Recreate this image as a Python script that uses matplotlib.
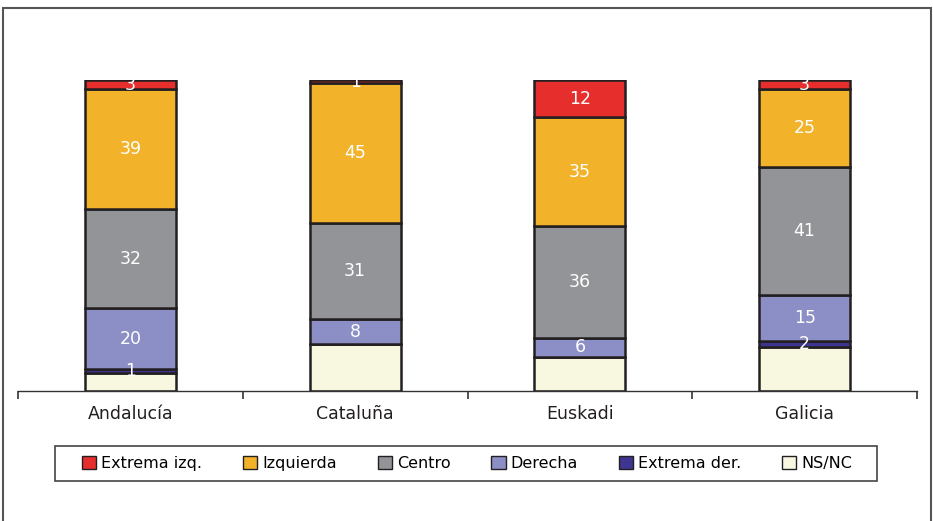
import matplotlib
matplotlib.use("Agg")
import matplotlib.pyplot as plt
from matplotlib.patches import Rectangle, Patch
import numpy as np

regiones = ["Andalucía", "Cataluña", "Euskadi", "Galicia"]
series = ["Extrema izq.", "Izquierda", "Centro", "Derecha", "Extrema der.", "NS/NC"]

# values per series, one per region
extrema_izq = [3, 1, 12, 3]
izquierda = [39, 45, 35, 25]
centro = [32, 31, 36, 41]
derecha = [20, 8, 6, 15]
extrema_der = [1, 0, 0, 2]
ns_nc = [6, 15, 11, 14]

colores = ["#E62E2D", "#F2B32B", "#929497", "#8C8EC6", "#3E3591", "#F8F8E1"]

plt.rcParams["font.family"] = ["DejaVu Sans"]

fig = plt.figure(figsize=(9.33, 5.21), dpi=100)
W, H = 933, 521
ax = fig.add_axes([18 / W, (H - 391) / H, 899 / W, 311 / H])

# stacked from bottom: NS/NC, Extrema der., Derecha, Centro, Izquierda, Extrema izq.
stack = [ns_nc, extrema_der, derecha, centro, izquierda, extrema_izq]
stack_cols = colores[::-1]
stack_labels = [False, True, True, True, True, True]

total = np.sum(np.array(stack, dtype=float), axis=0)
x = np.arange(len(regiones))
bottom = np.zeros(len(regiones))
for vals, col, lab in zip(stack, stack_cols, stack_labels):
    v = np.array(vals, dtype=float)
    pct = v / total * 100
    ax.bar(x, pct, 0.405, bottom=bottom, color=col,
           edgecolor="#231F20", linewidth=1.8, zorder=2)
    if lab:
        for xi, b, p, raw in zip(x, bottom, pct, vals):
            if raw > 0:
                ax.text(xi, b + p / 2, str(raw), ha="center", va="center",
                        color="white", fontsize=12.5, zorder=3)
    bottom += pct

ax.set_xlim(-0.5, 3.5)
ax.set_ylim(0, 100)
for s in ["top", "right", "left"]:
    ax.spines[s].set_visible(False)
ax.spines["bottom"].set_color("#333333")
ax.spines["bottom"].set_linewidth(1.0)
ax.set_yticks([])
ax.set_xticks(x)
ax.set_xticklabels(regiones, fontsize=12.5, color="#231F20")
ax.tick_params(axis="x", length=0, pad=10)
ax.set_xticks(np.arange(-0.5, 4.0, 1.0), minor=True)
ax.tick_params(axis="x", which="minor", length=6, width=1.2, color="#333333")

handles = [Patch(facecolor=c, edgecolor="#231F20", linewidth=1.0) for c in colores]
fig.legend(handles, series, loc="center left", ncol=6,
           bbox_to_anchor=(82 / W, (H - 481) / H, 770 / W, 35 / H),
           mode="expand", frameon=False,
           fontsize=11.5, handlelength=0.9, handleheight=0.9,
           handletextpad=0.3, borderaxespad=0, borderpad=0)

# legend frame
fig.patches.append(Rectangle((55 / W, (H - 481) / H), 822 / W, 35 / H,
                             transform=fig.transFigure, fill=False,
                             edgecolor="#444444", linewidth=1.2))

# outer chart frame
fig.patches.append(Rectangle((3 / W, -0.05), 928 / W, 1.05 - 8 / H,
                             transform=fig.transFigure, fill=False,
                             edgecolor="#555555", linewidth=1.5))

fig.savefig("out.png", dpi=100)
